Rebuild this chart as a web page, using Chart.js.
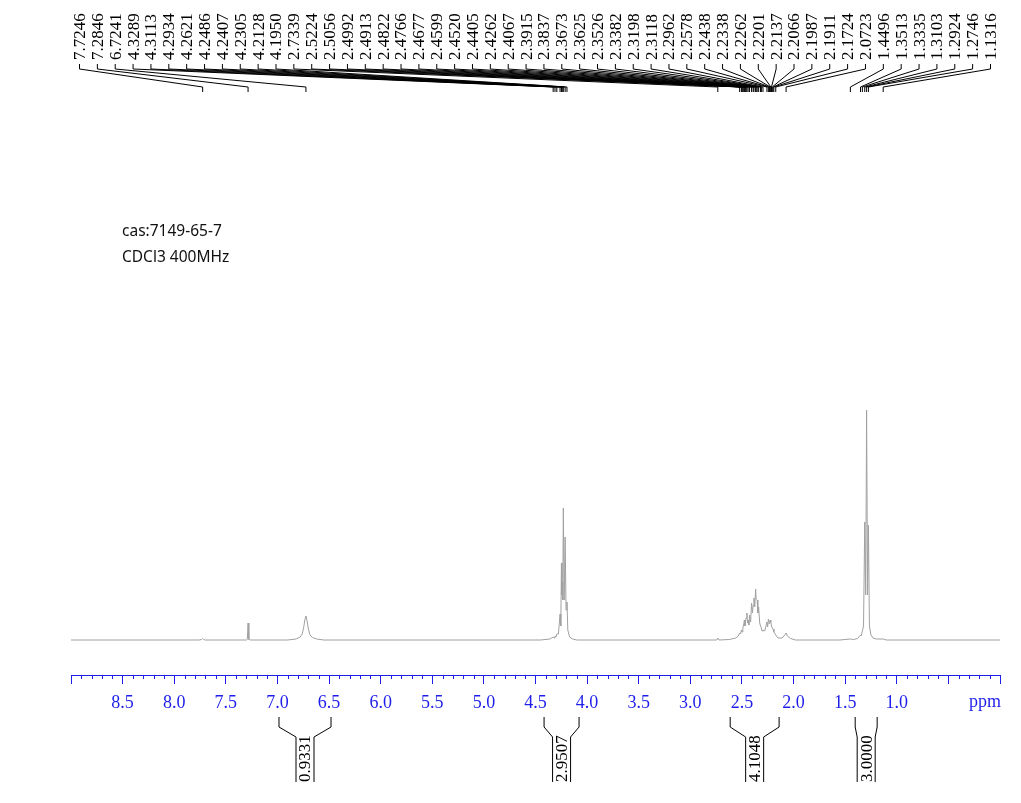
<!DOCTYPE html>
<html>
<head>
<meta charset="utf-8">
<script src="https://cdn.jsdelivr.net/npm/chart.js@4.4.1/dist/chart.umd.min.js"></script>
<style>
  html, body { margin: 0; padding: 0; background: #ffffff; }
  #wrap { position: relative; width: 1021px; height: 803px; }
</style>
</head>
<body>
<div id="wrap"><canvas id="c" width="1021" height="803"></canvas></div>
<script>
// ---- spectrum (chemical shift in ppm, relative intensity) ----
const specPpm = [
  9.00, 7.76, 7.735, 7.7246, 7.715, 7.70,
  7.30, 7.292, 7.2846, 7.277, 7.26,
  6.90, 6.82, 6.78, 6.76, 6.745, 6.735, 6.7241, 6.713, 6.70, 6.685, 6.66, 6.62, 6.55,
  4.45, 4.36, 4.3289, 4.32, 4.3113, 4.302, 4.2934, 4.278, 4.2621, 4.255, 4.2486, 4.244,
  4.2407, 4.236, 4.2305, 4.222, 4.2128, 4.204, 4.1950, 4.187, 4.17, 4.14, 4.10,
  2.80, 2.745, 2.7339, 2.722, 2.62, 2.56, 2.535, 2.5224, 2.513, 2.5056, 2.4992, 2.4913,
  2.4822, 2.4766, 2.471, 2.4677, 2.4599, 2.4520, 2.446, 2.4405, 2.433, 2.4262, 2.416,
  2.4067, 2.398, 2.3915, 2.3837, 2.376, 2.3673, 2.3625, 2.3526, 2.346, 2.3382, 2.328,
  2.3198, 2.3118, 2.305, 2.2962, 2.279, 2.2578, 2.251, 2.2438, 2.2338, 2.2262, 2.2201,
  2.2137, 2.2066, 2.1987, 2.1911, 2.1724, 2.15, 2.11, 2.085, 2.0723, 2.06, 2.03, 1.98,
  1.55, 1.4496, 1.42, 1.38, 1.3513, 1.345, 1.3335, 1.322, 1.3103, 1.301, 1.2924, 1.283,
  1.2746, 1.265, 1.25, 1.23, 1.20, 1.1316, 1.10, 0.00
];
const specInt = [
  0, 0, 0.5, 1.5, 0.5, 0,
  0, 0.5, 17, 0.5, 0,
  0, 1, 3, 6, 13, 20, 24, 19, 11, 5, 2.5, 1, 0,
  0, 1, 3, 2, 4, 3, 6, 6, 26, 14, 77, 45,
  58, 40, 132, 40, 103, 30, 38, 10, 3, 1, 0,
  0, 0, 2, 0, 0.5, 2, 4, 7, 6, 10, 8, 12,
  16, 20, 14, 18, 22, 27, 17, 20, 15, 25, 18,
  37, 27, 35, 42, 33, 51, 41, 40, 27, 33, 17,
  14, 12, 9, 10, 9, 18, 13, 21, 16, 20, 18,
  14, 12, 11, 8, 5, 2, 2, 5, 7, 4, 1.5, 0,
  0, 1, 0.5, 1.5, 5, 4, 9, 14, 118, 45, 230, 45,
  115, 14, 5, 2, 1, 1, 0, 0
];

// ---- peak pick labels (top) ----
const peakLabels = [
  '7.7246','7.2846','6.7241','4.3289','4.3113','4.2934','4.2621','4.2486','4.2407',
  '4.2305','4.2128','4.1950','2.7339','2.5224','2.5056','2.4992','2.4913','2.4822',
  '2.4766','2.4677','2.4599','2.4520','2.4405','2.4262','2.4067','2.3915','2.3837',
  '2.3673','2.3625','2.3526','2.3382','2.3198','2.3118','2.2962','2.2578','2.2438',
  '2.2338','2.2262','2.2201','2.2137','2.2066','2.1987','2.1911','2.1724','2.0723',
  '1.4496','1.3513','1.3335','1.3103','1.2924','1.2746','1.1316'
];

// ---- integrals (bottom) ----
const integralFrom = [6.985, 4.417, 2.614, 1.403];
const integralTo   = [6.481, 4.078, 2.140, 1.190];
const integralValues = ['0.9331', '2.9507', '4.1048', '3.0000'];

// ---- axis ----
const axisMin = 0, axisMax = 9, majorStep = 0.5, minorStep = 0.1;
const axisUnit = 'ppm';
const noteLines = ['cas:7149-65-7', 'CDCl3 400MHz'];

const BLUE = 'rgb(30,30,235)';
const SERIF = '"Liberation Serif", "Times New Roman", serif';

const points = specPpm.map((p, i) => ({ x: p, y: specInt[i] }));

const annot = {
  id: 'annot',
  afterDraw(chart) {
    const ctx = chart.ctx;
    const xs = chart.scales.x;
    const area = chart.chartArea;
    ctx.save();

    // minor ticks
    ctx.strokeStyle = BLUE;
    ctx.lineWidth = 1;
    const nMinor = Math.round((axisMax - axisMin) / minorStep);
    const per = Math.round(majorStep / minorStep);
    ctx.beginPath();
    for (let i = 0; i <= nMinor; i++) {
      if (i % per === 0) continue;
      const x = Math.round(xs.getPixelForValue(axisMin + i * minorStep)) + 0.5;
      ctx.moveTo(x, area.bottom);
      ctx.lineTo(x, area.bottom + 4);
    }
    ctx.stroke();

    // unit label
    ctx.fillStyle = BLUE;
    ctx.font = '18px ' + SERIF;
    ctx.textAlign = 'right';
    ctx.textBaseline = 'middle';
    ctx.fillText(axisUnit, xs.getPixelForValue(axisMin) + 1, area.bottom + 27);

    // peak labels
    ctx.fillStyle = '#000';
    ctx.strokeStyle = '#000';
    ctx.lineWidth = 1;
    ctx.font = '17px ' + SERIF;
    const n = peakLabels.length;
    const x0 = 79.5, x1 = 990.5;
    const step = (x1 - x0) / (n - 1);
    for (let i = 0; i < n; i++) {
      const lx = x0 + i * step;
      const px = xs.getPixelForValue(parseFloat(peakLabels[i]));
      ctx.save();
      ctx.translate(lx, 60);
      ctx.rotate(-Math.PI / 2);
      ctx.textAlign = 'left';
      ctx.textBaseline = 'middle';
      ctx.fillText(peakLabels[i], 0, 1);
      ctx.restore();
      ctx.beginPath();
      ctx.moveTo(lx, 64);
      ctx.lineTo(lx, 69);
      ctx.lineTo(px, 87);
      ctx.lineTo(px, 92);
      ctx.stroke();
    }

    // integrals
    ctx.font = '17px ' + SERIF;
    for (let i = 0; i < integralValues.length; i++) {
      const xa = xs.getPixelForValue(integralFrom[i]);
      const xb = xs.getPixelForValue(integralTo[i]);
      const cx = (xa + xb) / 2;
      const ia = cx - 9, ib = cx + 9;
      ctx.beginPath();
      ctx.moveTo(xa, 717); ctx.lineTo(xa, 727); ctx.lineTo(ia, 737); ctx.lineTo(ia, 782);
      ctx.moveTo(xb, 717); ctx.lineTo(xb, 727); ctx.lineTo(ib, 737); ctx.lineTo(ib, 782);
      ctx.stroke();
      ctx.save();
      ctx.translate(cx, 782);
      ctx.rotate(-Math.PI / 2);
      ctx.textAlign = 'left';
      ctx.textBaseline = 'middle';
      ctx.fillText(integralValues[i], 0, 1);
      ctx.restore();
    }

    // notes
    ctx.fillStyle = '#111';
    ctx.font = '15.5px "Noto Sans", "DejaVu Sans", sans-serif';
    ctx.textAlign = 'left';
    ctx.textBaseline = 'middle';
    ctx.fillText(noteLines[0], 122, 232);
    ctx.fillText(noteLines[1], 122, 258);

    ctx.restore();
  }
};

new Chart(document.getElementById('c'), {
  type: 'line',
  data: {
    datasets: [{
      data: points,
      borderColor: '#a0a0a0',
      borderWidth: 1,
      pointRadius: 0,
      tension: 0,
      fill: false
    }]
  },
  options: {
    responsive: false,
    animation: false,
    events: [],
    layout: { padding: { left: 71, right: 21, top: 100, bottom: 88 } },
    plugins: { legend: { display: false }, tooltip: { enabled: false } },
    scales: {
      x: {
        type: 'linear',
        position: 'bottom',
        reverse: true,
        min: axisMin,
        max: axisMax,
        afterFit: (scale) => { scale.height = 40; },
        border: { display: true, color: BLUE, width: 1 },
        grid: { drawOnChartArea: false, drawTicks: true, tickLength: 9, color: BLUE, tickColor: BLUE },
        ticks: {
          stepSize: majorStep,
          autoSkip: false,
          maxRotation: 0,
          minRotation: 0,
          padding: 8,
          color: BLUE,
          font: { family: SERIF, size: 18 },
          callback: (v) => (v >= 1 - 1e-9 && v <= 8.5 + 1e-9) ? Number(v).toFixed(1) : ''
        }
      },
      y: { display: false, min: -35, max: 540 }
    }
  },
  plugins: [annot]
});
</script>
</body>
</html>
